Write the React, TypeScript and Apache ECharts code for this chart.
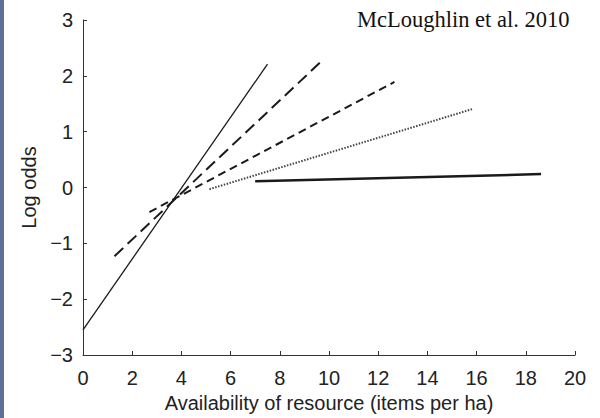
import React, { useEffect, useRef } from "react";
import * as echarts from "echarts";

// Line endpoints: [x, logOdds]
const solidThin: [number, number][] = [[0, -2.55], [7.5, 2.21]];
const longDash: [number, number][] = [[1.28, -1.23], [9.64, 2.24]];
const shortDash: [number, number][] = [[2.7, -0.44], [12.66, 1.89]];
const dotted: [number, number][] = [[5.14, -0.03], [15.87, 1.41]];
const solidThick: [number, number][] = [[7.0, 0.11], [18.62, 0.24]];

const xTitle = "Availability of resource (items per ha)";
const yTitle = "Log odds";
const credit = "McLoughlin et al. 2010";

export default function App() {
  const ref = useRef<HTMLDivElement>(null);
  useEffect(() => {
    if (!ref.current) return;
    const chart = echarts.init(ref.current, null, { renderer: "svg" });
    const axisColor = "#333";
    const font = "'Liberation Sans', Arial, sans-serif";
    const mk = (name: string, data: [number, number][], width: number, type: any, color = "#1a1a1a") => ({
      name,
      type: "line",
      data,
      symbol: "none",
      silent: true,
      lineStyle: { color, width, type, cap: "butt" },
    });
    chart.setOption({
      animation: false,
      backgroundColor: "#fff",
      grid: { left: 83, top: 20, width: 492, height: 343, containLabel: false },
      xAxis: {
        type: "value",
        min: 0,
        max: 20,
        interval: 2,
        name: xTitle,
        nameLocation: "middle",
        nameGap: 38,
        nameTextStyle: { fontFamily: font, fontSize: 20, color: "#222" },
        axisLine: { show: true, onZero: false, lineStyle: { color: axisColor, width: 1 } },
        axisTick: { show: true, inside: true, length: 4, lineStyle: { color: axisColor } },
        axisLabel: { fontFamily: font, fontSize: 20, color: "#222", margin: 13 },
        splitLine: { show: false },
      },
      yAxis: {
        type: "value",
        min: -3,
        max: 3,
        interval: 1,
        name: yTitle,
        nameLocation: "middle",
        nameGap: 41,
        nameRotate: 90,
        nameTextStyle: { fontFamily: font, fontSize: 20, color: "#222" },
        axisLine: { show: true, onZero: false, lineStyle: { color: axisColor, width: 1 } },
        axisTick: { show: true, inside: true, length: 4, lineStyle: { color: axisColor } },
        axisLabel: {
          fontFamily: font,
          fontSize: 20,
          color: "#222",
          margin: 10,
          formatter: (v: number) => String(v).replace("-", "\u2212"),
        },
        splitLine: { show: false },
      },
      series: [
        mk("solidThin", solidThin, 1.3, "solid"),
        mk("longDash", longDash, 2, [12, 6]),
        mk("shortDash", shortDash, 2, [8, 5]),
        mk("dotted", dotted, 2, [1.5, 1.5], "#444"),
        mk("solidThick", solidThick, 2.5, "solid"),
      ],
      graphic: [
        { type: "rect", shape: { x: 0, y: 0, width: 4, height: 418 }, style: { fill: "#5f7296" }, silent: true },
        {
          type: "text",
          x: 357,
          y: 19,
          style: {
            text: credit,
            fontFamily: "'Liberation Serif', 'Times New Roman', serif",
            fontSize: 22.5,
            fill: "#111",
            verticalAlign: "middle",
          },
          silent: true,
        },
      ],
    });
    return () => chart.dispose();
  }, []);
  return <div ref={ref} style={{ width: 600, height: 418, position: "absolute", left: 0, top: 0 }} />;
}
